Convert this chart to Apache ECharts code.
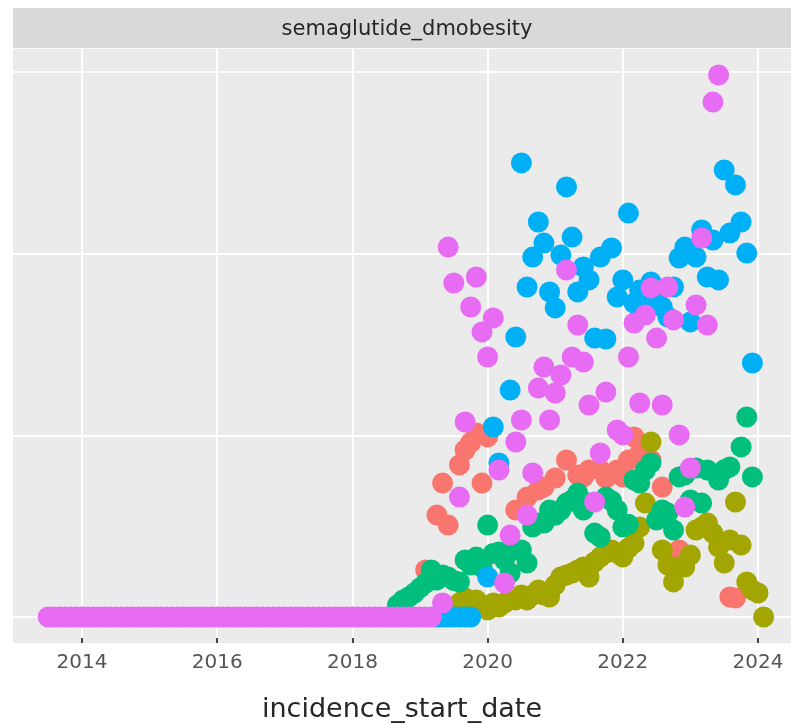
<!DOCTYPE html>
<html>
<head>
<meta charset="utf-8">
<script src="https://cdn.jsdelivr.net/npm/echarts@6/dist/echarts.min.js"></script>
<style>
html,body{margin:0;padding:0;background:#fff;}
#chart{width:791px;height:724px;}
</style>
</head>
<body>
<div id="chart"></div>
<script>
// facet label and axis
const facetLabel = 'semaglutide_dmobesity';
const xTitle = 'incidence_start_date';
const xTickYears = [2014, 2016, 2018, 2020, 2022, 2024];
const yGridValues = [0, 10, 20, 30];

// series names (ggplot default hue order) and colours
const seriesNames = ['g1', 'g2', 'g3', 'g4', 'g5'];
const seriesColors = ['#F8766D', '#A3A500', '#00BF7D', '#00B0F6', '#E76BF3'];

// [month, value]
const salmon = [
  ['2019-02',2.59],['2019-04',5.61],['2019-05',7.37],['2019-06',5.06],['2019-08',8.37],
  ['2019-09',9.19],['2019-10',9.6],['2019-11',10.13],['2019-12',7.37],['2020-01',9.91],
  ['2020-06',5.89],['2020-08',6.60],['2020-10',6.99],['2020-11',7.15],['2021-01',7.65],
  ['2021-03',8.64],['2021-05',7.81],['2021-06',7.71],['2021-07',8.09],['2021-09',8.1],
  ['2021-10',7.65],['2021-12',8.09],['2022-01',7.7],['2022-02',8.64],['2022-03',9.91],
  ['2022-04',9.0],['2022-05',9.19],['2022-06',8.64],['2022-08',7.15],['2022-11',3.69],
  ['2023-04',5.17],['2023-08',1.10],['2023-09',1.05]
];
const olive = [
  ['2019-08',0.77],['2019-09',1.05],['2019-10',0.66],['2019-11',0.94],['2019-12',0.55],
  ['2020-01',0.39],['2020-02',0.77],['2020-03',0.55],['2020-04',0.77],['2020-05',0.94],
  ['2020-06',0.94],['2020-07',1.21],['2020-08',0.94],['2020-09',1.21],['2020-10',1.49],
  ['2020-11',1.21],['2020-12',1.10],['2021-01',1.76],['2021-02',2.20],['2021-03',2.31],
  ['2021-04',2.42],['2021-05',2.59],['2021-06',2.75],['2021-07',2.20],['2021-08',3.03],
  ['2021-09',3.30],['2021-10',3.52],['2021-11',3.69],['2021-12',3.52],['2022-01',3.30],
  ['2022-02',3.80],['2022-03',4.07],['2022-04',4.95],['2022-05',6.27],['2022-06',9.63],
  ['2022-08',3.69],['2022-09',2.86],['2022-10',1.93],['2022-11',2.75],['2022-12',2.75],
  ['2023-01',3.41],['2023-02',4.79],['2023-03',4.95],['2023-04',5.17],['2023-05',4.62],
  ['2023-06',3.85],['2023-07',2.97],['2023-08',4.24],['2023-09',6.33],['2023-10',3.96],
  ['2023-11',1.93],['2023-12',1.49],['2024-01',1.32],['2024-02',0]
];
const green = [
  ['2018-09',0.66],['2018-10',0.94],['2018-11',1.10],['2018-12',1.32],['2019-01',1.60],
  ['2019-02',1.87],['2019-03',2.59],['2019-04',2.04],['2019-05',2.31],['2019-06',2.20],
  ['2019-07',2.0],['2019-08',1.93],['2019-09',3.14],['2019-10',2.86],['2019-11',3.30],
  ['2019-12',2.75],['2020-01',5.06],['2020-02',3.5],['2020-03',3.58],['2020-04',3.14],
  ['2020-05',2.42],['2020-06',3.69],['2020-07',3.69],['2020-08',2.97],['2020-09',4.95],
  ['2020-10',5.17],['2020-11',5.17],['2020-12',5.89],['2021-01',5.6],['2021-02',5.89],
  ['2021-03',6.27],['2021-04',6.44],['2021-05',6.82],['2021-06',5.89],['2021-07',6.27],
  ['2021-08',4.62],['2021-09',4.4],['2021-10',6.6],['2021-11',6.4],['2021-12',5.89],
  ['2022-01',4.95],['2022-02',5.1],['2022-03',7.54],['2022-04',7.37],['2022-05',8.09],
  ['2022-06',8.48],['2022-07',5.34],['2022-08',5.89],['2022-09',5.72],['2022-10',4.79],
  ['2022-11',7.71],['2022-12',7.81],['2023-01',6.44],['2023-02',8.2],['2023-03',6.27],
  ['2023-04',8.09],['2023-06',7.54],['2023-07',8.1],['2023-08',8.26],['2023-10',9.36],
  ['2023-11',11.01],['2023-12',7.71]
];
const blue = [
  ['2019-04',0],['2019-05',0],['2019-06',0],['2019-07',0],['2019-08',0],['2019-09',0],['2019-10',0],
  ['2020-01',2.20],['2020-02',10.46],['2020-03',8.48],['2020-05',12.49],['2020-06',15.41],
  ['2020-07',24.99],['2020-08',18.16],['2020-09',19.81],['2020-10',21.74],['2020-11',20.58],
  ['2020-12',17.89],['2021-01',17.01],['2021-02',19.92],['2021-03',23.67],['2021-04',20.91],
  ['2021-05',17.89],['2021-06',19.26],['2021-07',18.55],['2021-08',15.35],['2021-09',19.81],
  ['2021-10',15.3],['2021-11',20.31],['2021-12',17.61],['2022-01',18.55],['2022-02',22.23],
  ['2022-03',17.28],['2022-04',18.0],['2022-05',17.4],['2022-06',18.44],['2022-07',17.7],
  ['2022-08',17.06],['2022-09',16.51],['2022-10',18.16],['2022-11',19.76],['2022-12',20.36],
  ['2023-01',16.24],['2023-02',19.81],['2023-03',21.30],['2023-04',18.71],['2023-05',20.75],
  ['2023-06',18.55],['2023-07',24.60],['2023-08',21.13],['2023-09',23.78],['2023-10',21.74],
  ['2023-11',20.03],['2023-12',13.98]
];
const pinkZeroMonths = [
  '2013-07','2013-08','2013-09','2013-10','2013-11','2013-12',
  '2014-01','2014-02','2014-03','2014-04','2014-05','2014-06','2014-07','2014-08','2014-09','2014-10','2014-11','2014-12',
  '2015-01','2015-02','2015-03','2015-04','2015-05','2015-06','2015-07','2015-08','2015-09','2015-10','2015-11','2015-12',
  '2016-01','2016-02','2016-03','2016-04','2016-05','2016-06','2016-07','2016-08','2016-09','2016-10','2016-11','2016-12',
  '2017-01','2017-02','2017-03','2017-04','2017-05','2017-06','2017-07','2017-08','2017-09','2017-10','2017-11','2017-12',
  '2018-01','2018-02','2018-03','2018-04','2018-05','2018-06','2018-07','2018-08','2018-09','2018-10','2018-11','2018-12',
  '2019-01','2019-02','2019-03'
];
const pink = [
  ['2019-05',0.77],['2019-06',20.36],['2019-07',18.38],['2019-08',6.6],['2019-09',10.73],
  ['2019-10',17.06],['2019-11',18.71],['2019-12',15.69],['2020-01',14.31],['2020-02',16.46],
  ['2020-03',8.09],['2020-04',1.87],['2020-05',4.51],['2020-06',9.63],['2020-07',10.84],
  ['2020-08',5.61],['2020-09',7.93],['2020-10',12.60],['2020-11',13.76],['2020-12',10.84],
  ['2021-01',12.33],['2021-02',13.32],['2021-03',19.10],['2021-04',14.31],['2021-05',16.07],
  ['2021-06',14.03],['2021-07',11.67],['2021-08',6.33],['2021-09',9.03],['2021-10',12.38],
  ['2021-12',10.29],['2022-01',10.02],['2022-02',14.31],['2022-03',16.18],['2022-04',11.78],
  ['2022-05',16.62],['2022-06',18.11],['2022-07',15.35],['2022-08',11.67],['2022-09',18.16],
  ['2022-10',16.35],['2022-11',10.02],['2022-12',6.05],['2023-01',8.2],['2023-02',17.17],
  ['2023-03',20.86],['2023-04',16.07],['2023-05',28.34],['2023-06',29.83]
];

function toYear(s) {
  const p = s.split('-').map(Number);
  return p[0] + (p[1] - 1) / 12;
}
function toPoints(arr) { return arr.map(d => [toYear(d[0]), d[1]]); }

const pinkAll = pinkZeroMonths.map(m => [m, 0]).concat(pink);
const allSeries = [salmon, olive, green, blue, pinkAll];

const chart = echarts.init(document.getElementById('chart'), null, {renderer: 'canvas'});
const FONT = 'DejaVu Sans';

chart.setOption({
  animation: false,
  backgroundColor: '#ffffff',
  grid: {
    left: 13, right: 0, top: 49, bottom: 81,
    show: true, backgroundColor: '#EBEBEB', borderWidth: 0,
    containLabel: false, outerBoundsMode: 'none'
  },
  graphic: [
    { type: 'rect', shape: {x: 13, y: 8, width: 778, height: 40}, style: {fill: '#D9D9D9'}, silent: true },
    { type: 'text', x: 407, y: 30, style: {
        text: facetLabel, fill: '#262626', font: '21px "DejaVu Sans"',
        textAlign: 'center', textVerticalAlign: 'middle' } }
  ],
  xAxis: {
    type: 'value',
    min: 2012.979, max: 2024.488,
    name: xTitle, nameLocation: 'middle', nameGap: 53,
    nameTextStyle: {fontSize: 27, color: '#262626', fontFamily: FONT},
    axisLine: {show: true, onZero: false, lineStyle: {color: 'rgba(0,0,0,0)'}},
    axisTick: {show: true, inside: true, customValues: xTickYears, length: 5, lineStyle: {color: '#444', width: 2}},
    axisLabel: {customValues: xTickYears, fontSize: 20, color: '#555', fontFamily: FONT, margin: 10,
      formatter: v => String(Math.round(v))},
    splitLine: {show: true, lineStyle: {color: '#ffffff', width: 2}}
  },
  yAxis: {
    type: 'value',
    min: -1.43, max: 31.26,
    axisLine: {show: false, onZero: false},
    axisTick: {show: false, customValues: yGridValues},
    axisLabel: {show: false, customValues: yGridValues},
    splitLine: {show: true, lineStyle: {color: '#ffffff', width: 2}}
  },
  series: allSeries.map((s, i) => ({
    name: seriesNames[i],
    type: 'scatter',
    data: toPoints(s),
    symbolSize: 21,
    itemStyle: {color: seriesColors[i], opacity: 1},
    emphasis: {disabled: true}
  }))
});
</script>
</body>
</html>
